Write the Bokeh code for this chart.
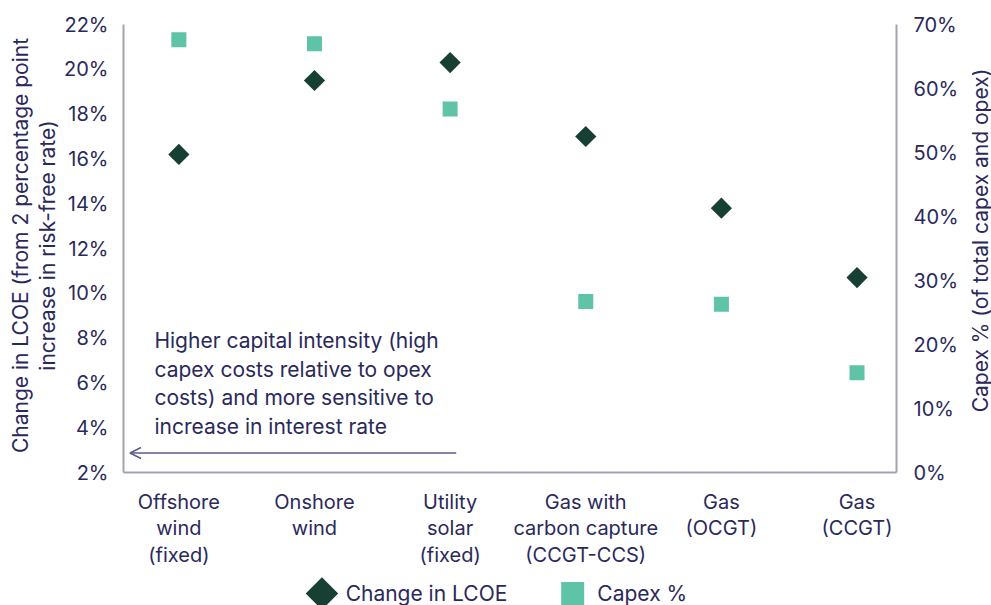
import math
from bokeh.plotting import figure
from bokeh.models import (Range1d, LinearAxis, FixedTicker, Label, Arrow, OpenHead,
                          ColumnDataSource)
from bokeh.layouts import column, row
from bokeh.core.properties import value
from bokeh.embed import file_html
from bokeh.resources import INLINE

# Technologies on the x axis
categories = ["Offshore\nwind\n(fixed)", "Onshore\nwind", "Utility\nsolar\n(fixed)",
              "Gas with\ncarbon capture\n(CCGT-CCS)", "Gas\n(OCGT)", "Gas\n(CCGT)"]
# Change in LCOE (%) for a 2pp rise in the risk-free rate (left axis)
lcoe_change = [16.2, 19.5, 20.3, 17.0, 13.8, 10.7]
# Capex share of total capex + opex (%) (right axis)
capex_share = [67.6, 67.0, 56.8, 26.7, 26.3, 15.6]
left_ticks = [2, 4, 6, 8, 10, 12, 14, 16, 18, 20, 22]
right_ticks = [0, 10, 20, 30, 40, 50, 60, 70]
legend_labels = ["Change in LCOE", "Capex %"]
left_title = "Change in LCOE (from 2 percentage point\nincrease in risk-free rate)"
right_title = "Capex % (of total capex and opex)"

FONT = "Inter"
TEXT = "#2a295b"
AXIS = "#a3a3b5"
DARK = "#173f34"
TEAL = "#5ec3a7"

W, H = 991, 605
LT_W, RT_W = 60, 30                 # side strips holding the axis titles
FRAME_L, FRAME_R = 123, 906         # plot frame edges on the page
MAIN_W = W - LT_W - RT_W
BL, BR = FRAME_L - LT_W, (W - RT_W) - FRAME_R

xs = list(range(len(categories)))
src = ColumnDataSource(dict(x=xs, lcoe=lcoe_change, capex=capex_share))

p = figure(width=MAIN_W, height=570, output_backend="svg", toolbar_location=None,
           x_range=Range1d(-0.408, 5.291), y_range=Range1d(2, 22),
           min_border_left=BL, min_border_right=BR, min_border_top=24,
           min_border_bottom=88)
p.outline_line_color = None
p.grid.visible = False
p.extra_y_ranges = {"capex": Range1d(0, 70)}


def style_axis(ax):
    ax.axis_line_color = AXIS
    ax.axis_line_width = 2
    ax.major_tick_line_color = None
    ax.minor_tick_line_color = None
    ax.major_label_text_font = FONT
    ax.major_label_text_font_size = "20px"
    ax.major_label_text_color = TEXT


xa = p.xaxis[0]
style_axis(xa)
xa.ticker = FixedTicker(ticks=xs)
xa.major_label_overrides = {i: c for i, c in zip(xs, categories)}
xa.major_label_standoff = 11
xa.major_label_text_line_height = 1.12

ya = p.yaxis[0]
style_axis(ya)
ya.ticker = FixedTicker(ticks=left_ticks)
ya.major_label_overrides = {t: f"{t}%" for t in left_ticks}
ya.major_label_standoff = 9

ra = LinearAxis(y_range_name="capex")
style_axis(ra)
ra.ticker = FixedTicker(ticks=right_ticks)
ra.major_label_overrides = {t: f"{t}%" for t in right_ticks}
ra.major_label_standoff = 11
p.add_layout(ra, "right")

p.scatter("x", "capex", source=src, y_range_name="capex", marker="square",
          size=15, fill_color=TEAL, line_color=None)
p.scatter("x", "lcoe", source=src, marker="square", angle=math.pi / 4,
          size=15, fill_color=DARK, line_color=None)

p.add_layout(Label(x=-0.18, y=8.45, text="Higher capital intensity (high\ncapex costs relative to opex\ncosts) and more sensitive to\nincrease in interest rate",
                   text_font=FONT, text_font_size="21px", text_color=TEXT,
                   text_baseline="top", text_line_height=1.14))
p.add_layout(Arrow(x_start=2.045, y_start=2.87, x_end=-0.36, y_end=2.87,
                   line_color="#5b5a8c", line_width=1.5,
                   end=OpenHead(size=11, line_color="#5b5a8c", line_width=1.5)))


def strip(width, height, x_range):
    f = figure(width=width, height=height, output_backend="svg", toolbar_location=None,
               x_range=x_range, y_range=Range1d(0, height),
               x_axis_type=None, y_axis_type=None,
               min_border_left=0, min_border_right=0,
               min_border_top=0, min_border_bottom=0)
    f.grid.visible = False
    f.outline_line_color = None
    return f


# Legend strip beneath the chart (x in page pixels)
lg = strip(MAIN_W, 35, Range1d(FRAME_L, FRAME_R))
lg.min_border_left = BL
lg.min_border_right = BR
lg.scatter([324], [12], marker="square", angle=math.pi / 4, size=23,
           fill_color=DARK, line_color=None)
lg.scatter([578], [12], marker="square", size=23, fill_color=TEAL, line_color=None)
lg.text([348, 603], [12, 12], text=legend_labels,
        text_font=value(FONT), text_font_size="21px", text_color=TEXT,
        text_baseline="middle")

# Axis titles, both reading bottom-to-top
lt = strip(LT_W, H, Range1d(0, LT_W))
lt.text([33.5], [H - 245], text=[left_title], angle=math.pi / 2,
        text_align="center", text_baseline="middle", text_line_height=1.1,
        text_font=value(FONT), text_font_size="21px", text_color=TEXT)

rt = strip(RT_W, H, Range1d(W - RT_W, W))
rt.text([979.5], [H - 240], text=[right_title], angle=math.pi / 2,
        text_align="center", text_baseline="middle",
        text_font=value(FONT), text_font_size="21px", text_color=TEXT)

layout = row(lt, column(p, lg, spacing=0), rt, spacing=0)
open("out.html", "w").write(file_html(layout, INLINE))
